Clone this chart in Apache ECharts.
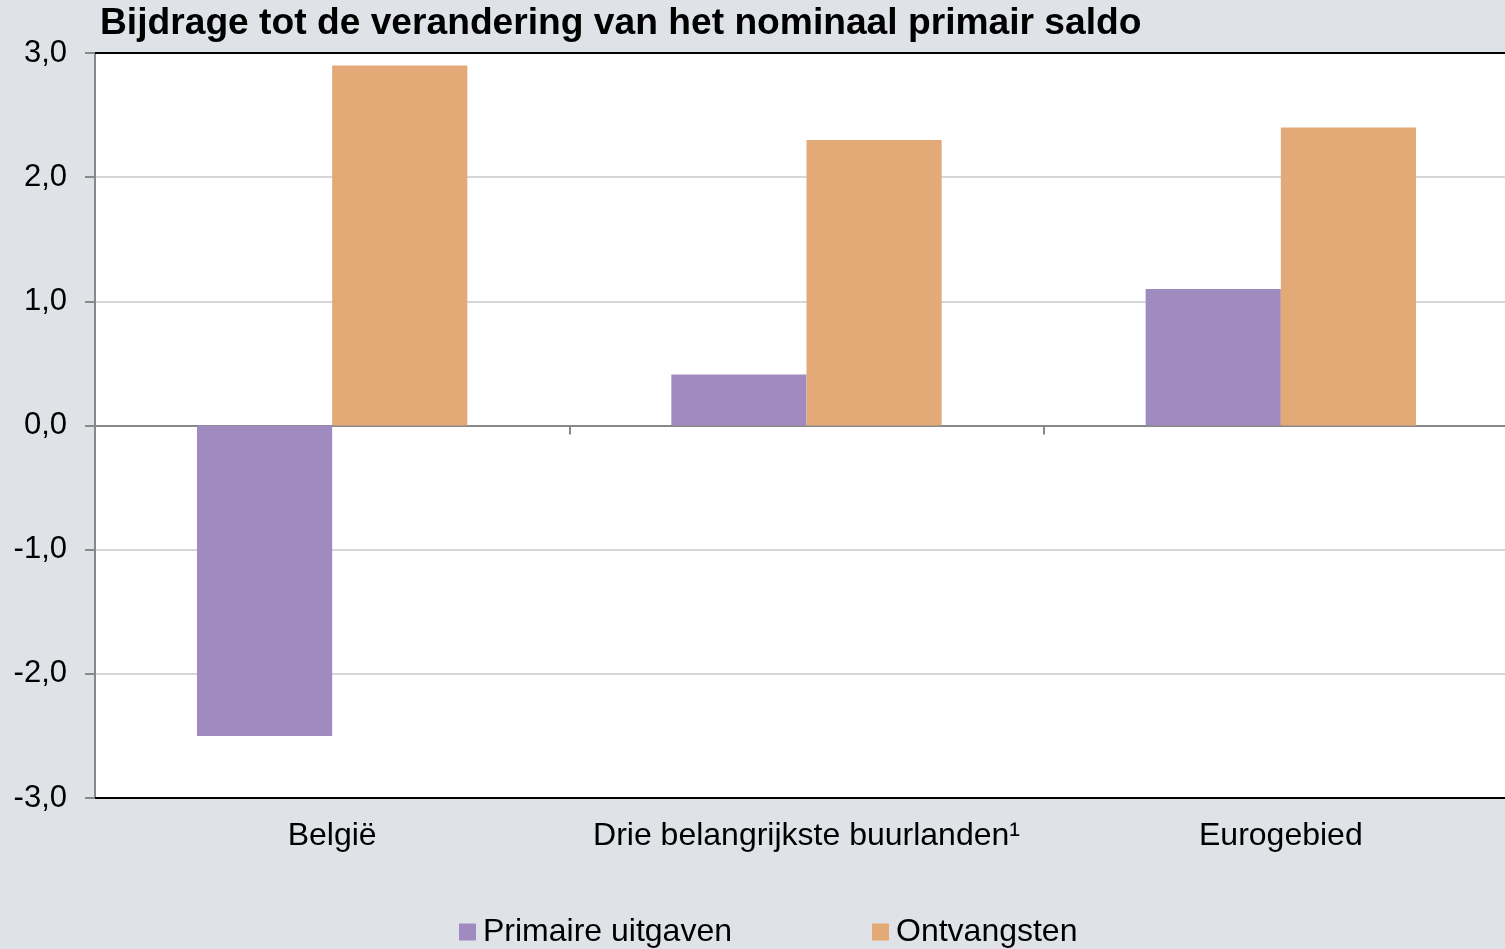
<!DOCTYPE html>
<html>
<head>
<meta charset="utf-8">
<script src="https://cdn.jsdelivr.net/npm/echarts@6/dist/echarts.min.js"></script>
<style>
  html, body { margin: 0; padding: 0; background: #dfe2e7; }
  #chart { width: 1505px; height: 949px; }
</style>
</head>
<body>
<div id="chart"></div>
<script>
// gegevens uit de grafiek
const categories = ['België', 'Drie belangrijkste buurlanden¹', 'Eurogebied']
const primaireUitgaven = [-2.5, 0.41, 1.1]
const ontvangsten = [2.9, 2.3, 2.4]
const seriesNames = ['Primaire uitgaven', 'Ontvangsten']

const font = 'Liberation Sans, Arial, sans-serif'
const fmt = (v) => v.toFixed(1).replace('.', ',')

const chart = echarts.init(document.getElementById('chart'))

const option = {
  backgroundColor: '#dfe2e7',
  animation: false,
  title: {
    text: 'Bijdrage tot de verandering van het nominaal primair saldo',
    left: 95,
    top: 0,
    textStyle: { fontFamily: font, fontSize: 37.2, fontWeight: 'bold', color: '#000' },
  },
  legend: {
    data: seriesNames,
    left: 459,
    top: 916,
    itemWidth: 17,
    itemHeight: 17,
    itemGap: 140,
    icon: 'rect',
    padding: 0,
    textStyle: { fontFamily: font, fontSize: 32, color: '#000', padding: [0, 0, 0, 2] },
  },
  grid: {
    left: 95,
    width: 1423, // rechterrand valt buiten beeld, zoals in het origineel
    top: 53,
    bottom: 151,
    outerBoundsMode: 'none',
    containLabel: false,
    show: true,
    backgroundColor: '#fff',
    borderWidth: 0,
  },
  xAxis: [
    {
      // onderste rand + labels
      type: 'category',
      data: categories,
      position: 'bottom',
      axisLine: { onZero: false, lineStyle: { color: '#000', width: 2 } },
      axisTick: { show: false },
      axisLabel: { fontFamily: font, fontSize: 32, color: '#000', margin: 22, interval: 0 },
    },
    {
      // nullijn met streepjes tussen categorieën
      type: 'category',
      data: categories,
      position: 'bottom',
      axisLine: { onZero: true, lineStyle: { color: '#888', width: 2 } },
      axisTick: { show: true, inside: false, length: 9, lineStyle: { color: '#888', width: 2 } },
      axisLabel: { show: false },
    },
    {
      // bovenrand
      type: 'category',
      data: categories,
      position: 'top',
      axisLine: { lineStyle: { color: '#000', width: 2 } },
      axisTick: { show: false },
      axisLabel: { show: false },
    },
  ],
  yAxis: {
    type: 'value',
    min: -3,
    max: 3,
    interval: 1,
    axisLine: { show: true, lineStyle: { color: '#888', width: 2 } },
    axisTick: { show: true, length: 10, lineStyle: { color: '#888', width: 2 } },
    axisLabel: { fontFamily: font, fontSize: 31, color: '#000', margin: 28, formatter: fmt },
    splitLine: { lineStyle: { color: '#c8c8c8', width: 1.5 } },
  },
  series: [
    {
      name: seriesNames[0],
      type: 'bar',
      xAxisIndex: 0,
      data: primaireUitgaven,
      barGap: '0%',
      barCategoryGap: '43%',
      itemStyle: { color: '#9f8bbf' },
      z: 1,
    },
    {
      name: seriesNames[1],
      type: 'bar',
      xAxisIndex: 0,
      data: ontvangsten,
      barGap: '0%',
      barCategoryGap: '43%',
      itemStyle: { color: '#e3aa78' },
      z: 1,
    },
  ],
}

chart.setOption(option)
</script>
</body>
</html>
